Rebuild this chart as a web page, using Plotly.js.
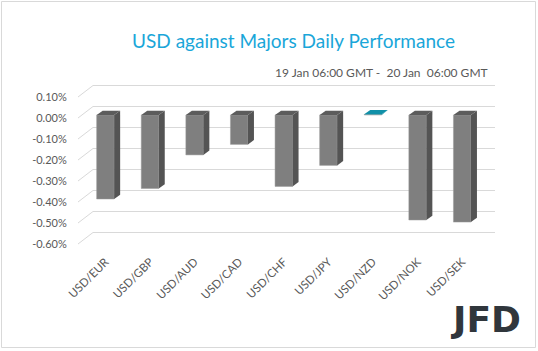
<!DOCTYPE html>
<html>
<head>
<meta charset="utf-8">
<script src="https://cdn.plot.ly/plotly-3.0.1.min.js"></script>
<style>
html,body{margin:0;padding:0;background:#fff;}
#chart{width:538px;height:351px;}
</style>
</head>
<body>
<div id="chart"></div>
<script>
// ---- data ----
var categories = ["USD/EUR","USD/GBP","USD/AUD","USD/CAD","USD/CHF","USD/JPY","USD/NZD","USD/NOK","USD/SEK"];
var values = [-0.40, -0.35, -0.19, -0.14, -0.34, -0.24, 0.003, -0.50, -0.51];
var yTickVals = [0.10, 0.00, -0.10, -0.20, -0.30, -0.40, -0.50, -0.60];
var yTickLabels = ["0.10%","0.00%","-0.10%","-0.20%","-0.30%","-0.40%","-0.50%","-0.60%"];
var titleText = "USD against Majors Daily Performance";
var subtitleText = "19 Jan 06:00 GMT -  20 Jan  06:00 GMT";

// ---- geometry (pixels) ----
var W = 538, H = 351;
var L = 78, R = 495, T = 80, B = 252;
var plotW = R - L, plotH = B - T;
var step = 44.6, c0 = 105.4;      // category spacing / first bar centre
var pxPerUnit = 210;
var yFront0 = 118, yBack0 = 106.5, yBar0 = 115;
var wallDX = 15;
var barW = 17.5 / step;
var dX = 6 / step, dY = 4.3 / pxPerUnit;

var xMin = -(c0 - L) / step, xMax = (R - c0) / step;
function yRange(zeroPx){ var top = (zeroPx - T) / pxPerUnit; return [top - plotH / pxPerUnit, top]; }
function px2paperX(px){ return (px - L) / plotW; }
function px2paperY(py){ return (B - py) / plotH; }

var grey = "#7f7f7f", greyDark = "#545454", teal = "#1190a8";
var idx = categories.map(function(_, i){ return i; });
var colors = values.map(function(v){ return v >= 0 ? teal : grey; });

var traces = [];
// invisible trace so the label axis (front plane) is drawn
traces.push({type: "scatter", mode: "markers", x: [null], y: [null], xaxis: "x", yaxis: "y",
  hoverinfo: "skip", showlegend: false});
traces.push({
  type: "bar", x: idx, y: values, width: barW, xaxis: "x", yaxis: "y2",
  marker: {color: colors, line: {color: "#9a9a9a", width: 0.5}},
  hoverinfo: "skip", showlegend: false
});
values.forEach(function(v, i){
  var xl = i - barW / 2, xr = i + barW / 2;
  var lo = Math.min(v, 0), hi = Math.max(v, 0);
  var c = v >= 0 ? teal : greyDark;
  // right side face
  traces.push({type: "scatter", mode: "lines", xaxis: "x", yaxis: "y2",
    x: [xr, xr + dX, xr + dX, xr, xr], y: [hi, hi + dY, lo + dY, lo, hi],
    fill: "toself", fillcolor: c, line: {width: 0, color: c}, hoverinfo: "skip", showlegend: false});
  // top face
  traces.push({type: "scatter", mode: "lines", xaxis: "x", yaxis: "y2",
    x: [xl, xr, xr + dX, xl + dX, xl], y: [hi, hi, hi + dY, hi + dY, hi],
    fill: "toself", fillcolor: v >= 0 ? teal : "#5c5c5c", line: {width: 0, color: c}, hoverinfo: "skip", showlegend: false});
});

// wall gridlines (side diagonal + back wall)
var shapes = [];
yTickVals.forEach(function(v){
  var yf = yFront0 - v * pxPerUnit, yb = yBack0 - v * pxPerUnit;
  shapes.push({type: "path", xref: "paper", yref: "paper",
    path: "M " + px2paperX(L) + " " + px2paperY(yf) + " L " + px2paperX(L + wallDX) + " " + px2paperY(yb) + " L " + px2paperX(R) + " " + px2paperY(yb),
    line: {color: "#d9d9d9", width: 1}, layer: "below"});
});
// outer border
shapes.push({type: "rect", xref: "paper", yref: "paper",
  x0: px2paperX(1.5), x1: px2paperX(535.5), y0: px2paperY(1.5), y1: px2paperY(347.5),
  line: {color: "#d9d9d9", width: 1}, fillcolor: "rgba(0,0,0,0)", layer: "below"});

var font = "Lato, 'Open Sans', sans-serif";
var layout = {
  width: W, height: H,
  margin: {l: L, r: W - R, t: T, b: H - B, pad: 0},
  paper_bgcolor: "#ffffff", plot_bgcolor: "rgba(0,0,0,0)",
  showlegend: false,
  font: {family: font, color: "#595959", size: 11},
  title: {text: titleText, font: {family: font, size: 19, color: "#1aa6d9"},
    xref: "container", yref: "container", x: 293.5 / W, xanchor: "center", y: 1 - 41 / H, yanchor: "middle"},
  xaxis: {range: [xMin, xMax], tickvals: idx, ticktext: categories, tickangle: -45,
    showgrid: false, zeroline: false, showline: false, ticks: "", fixedrange: true,
    tickfont: {family: font, size: 11.5, color: "#595959"}},
  yaxis: {range: yRange(yFront0), tickvals: yTickVals, ticktext: yTickLabels,
    showgrid: false, zeroline: false, showline: false, ticks: "outside", ticklen: 8, tickcolor: "rgba(0,0,0,0)",
    tickfont: {family: font, size: 11, color: "#595959"}},
  yaxis2: {range: yRange(yBar0), overlaying: "y", visible: false, showgrid: false, zeroline: false},
  shapes: shapes,
  annotations: [
    {text: subtitleText, xref: "paper", yref: "paper", x: px2paperX(490), y: px2paperY(73),
      xanchor: "right", yanchor: "middle", showarrow: false, font: {family: font, size: 12, color: "#595959"}},
    {text: "<b>JFD</b>", xref: "paper", yref: "paper", x: px2paperX(485), y: px2paperY(319),
      xanchor: "center", yanchor: "middle", showarrow: false, font: {family: "'DejaVu Sans'", size: 36, color: "#30363c"}}
  ]
};
Plotly.newPlot("chart", traces, layout, {displayModeBar: false, staticPlot: true});
</script>
</body>
</html>
